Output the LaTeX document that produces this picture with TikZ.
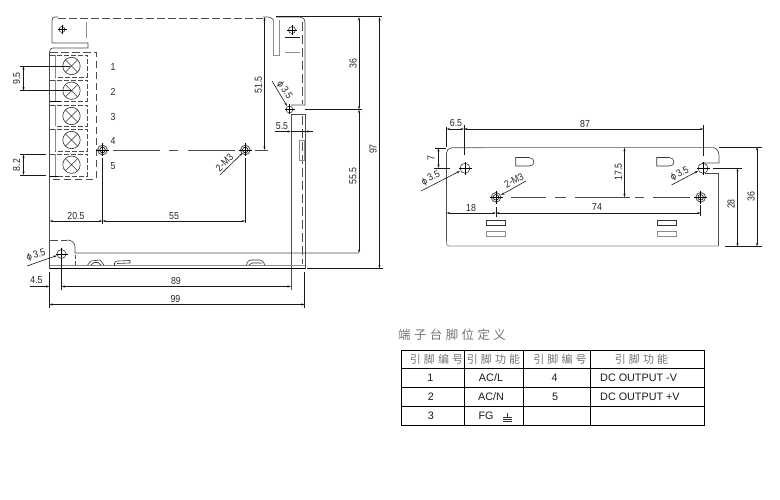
\documentclass[tikz,border=0pt]{standalone}
\usepackage{fontspec}
\setmainfont{Liberation Sans}
\newfontfamily\dimf[FakeStretch=0.86]{Liberation Sans}
\newfontfamily\cjkf[LetterSpace=28]{Noto Sans CJK SC}
\newfontfamily\symf{DejaVu Sans}
\usetikzlibrary{arrows.meta}
\tikzset{
  body/.style={line width=0.7pt,draw=black!70},
  bodylight/.style={line width=0.8pt,draw=black!45},
  dashline/.style={line width=0.7pt,draw=black!70,dash pattern=on 7.5pt off 3.5pt},
  dimline/.style={line width=0.6pt,draw=black!90},
  dimarrow/.style={dimline,<->,>={Stealth[length=3.5pt,width=2.2pt]}},
  onearrow/.style={dimline,->,>={Stealth[length=3.5pt,width=2.2pt]}},
  lab/.style={font=\dimf\fontsize{10.2}{12}\selectfont,text=black!85,inner sep=0pt},
  cjktext/.style={inner sep=0pt,text=black!55},
  cell/.style={font=\fontsize{10.8}{13}\selectfont,inner sep=0pt,text=black!90},
  screw/.style={line width=0.6pt,draw=black!80}
}
\newcommand{\phisym}{{\symf\fontsize{8.5}{10}\selectfont ϕ}}
\newcommand{\plainhole}[3]{%
  \draw[screw] (#1,#2) circle (#3pt);
  \draw[line width=0.5pt,draw=black] (#1-#3-1.5,#2) -- (#1+#3+1.5,#2) (#1,#2-#3-1.5) -- (#1,#2+#3+1.5);
}
\newcommand{\threadhole}[2]{%
  \draw[line width=0.9pt,draw=black!65] (#1,#2) circle (4.8pt);
  \draw[line width=0.6pt,draw=black] (#1,#2) circle (2.8pt);
  \draw[line width=0.5pt,draw=black] (#1-6.5,#2) -- (#1+6.5,#2) (#1,#2-6.5) -- (#1,#2+6.5);
}
\newcommand{\tscrew}[2]{%
  \draw[screw] (71.5,#1) circle (8.7pt);
  \draw[screw] (71.5-6.15,#1-6.15) -- (71.5+6.15,#1+6.15) (71.5-6.15,#1+6.15) -- (71.5+6.15,#1-6.15);
  \node[lab] (term#2) at (113,#1+1) {#2};
}
\begin{document}
\begin{tikzpicture}[x=1pt,y=-1pt]
\useasboundingbox (0,0) rectangle (780,500);
% ---------- left view: chassis
\draw[body] (52,43) -- (52,21) .. controls (52,18) and (53,17) .. (55,17) -- (58,17);
\draw[dashline] (58,18.5) -- (263,18.5);
\draw[body] (263,17) -- (268,17) .. controls (270,17) and (272,18) .. (273.5,20);
\draw[body] (52,43) -- (88,43) -- (88,48) -- (53,48) .. controls (51,48) and (49.5,49) .. (49.5,52);
\draw[bodylight] (86,22) -- (86,38);
\draw[body] (49.5,52) -- (49.5,268.5);
\draw[dashline] (50,52) -- (96,52) -- (96,179) -- (49.5,179);
% terminal cells
\foreach \t/\b in {55/77.5,80/101.5,105/126.5,129.5/151.5,154/176}{
  \draw[dashline,dash pattern=on 5pt off 2pt] (49.5,\t) -- (87,\t) -- (87,\b) -- (55,\b);
  \draw[bodylight,line width=0.6pt] (55,\t) -- (55,\b);
}
\draw[body,draw=black] (49.5,101.5) -- (60,101.5) (49.5,176) -- (58,176);
\tscrew{66}{1}\tscrew{90.7}{2}\tscrew{116}{3}\tscrew{140}{4}\tscrew{164.7}{5}
% right bracket
\draw[bodylight] (273.5,20) -- (273.5,55) -- (279,55) -- (279,20);
\draw[body] (276,17) -- (300,17) .. controls (303,17) and (305,19) .. (305,23) -- (305,105) -- (291,105);
\draw[body] (291,114) -- (305,114) -- (305,268.5);
\draw[body] (291,114) -- (291,290);
\draw[dashline,dash pattern=on 9pt off 4pt] (302,22) -- (302,104);
\draw[dashline,dash pattern=on 9pt off 4pt] (302,116) -- (302,264);
\draw[bodylight,line width=0.6pt] (299.5,140) rectangle (304,160.7);
\draw[dimline] (285,37.5) -- (300,37.5);
\draw[bodylight] (285,52.5) -- (300,52.5);
% bottom plate
\draw[dashline,dash pattern=on 8pt off 3pt] (49.5,240) -- (67,240);
\draw[body] (67,240) .. controls (72,240) and (75,243) .. (75,247) -- (75,253) -- (359,253);
\draw[dashline,dash pattern=on 4pt off 2pt] (75,255) -- (75,265);
\draw[bodylight] (49.5,265.5) -- (305,265.5);
\draw[body,draw=black] (49.5,268.5) -- (305,268.5);
\draw[screw] (87.5,265) -- (91,261) -- (100,260) -- (104,265);
\draw[screw] (91,265) -- (94,262.5) -- (98,262.5) -- (101,265);
\draw[screw] (114.5,265.5) -- (114.5,263) .. controls (115,261.5) and (116,261) .. (118,261) -- (130,260.5) -- (130,263) -- (117,263.5);
\draw[screw] (246.5,265) .. controls (247.5,261) and (249,260) .. (251,260) -- (260,260) .. controls (262,260) and (264,262) .. (265,265);
\draw[screw] (249,265) -- (252,263) -- (262,263);
% holes
\plainhole{62}{29.5}{3}
\plainhole{292}{30}{3.5}
\plainhole{61.5}{254}{4.5}
\plainhole{289.5}{109.5}{3.5}
\threadhole{102.5}{150}
\threadhole{245.3}{150}
% centre line
\draw[body] (113,150) -- (160,150);
\draw[body] (169,150) -- (178,150);
\draw[body] (188,150) -- (235,150);
\draw[body] (255,150) -- (268,150);
% left view dims
\draw[dimline] (20,66) -- (70,66) (20,90.7) -- (71,90.7) (20,154.5) -- (46,154.5) (20,175) -- (46,175);
\draw[dimarrow] (23.5,66) -- (23.5,90.7);
\draw[dimarrow] (23.5,154.5) -- (23.5,175);
\node[lab,rotate=90] (d95) at (16.5,78.5) {9.5};
\node[lab,rotate=90] (d82) at (16.5,165) {8.2};
\draw[dimline] (102.5,158) -- (102.5,224) (245.3,158) -- (245.3,223);
\draw[dimarrow] (49.5,221) -- (102.5,221);
\draw[dimarrow] (102.5,221) -- (245.3,221);
\node[lab] (d205) at (76,215.5) {20.5};
\node[lab] (d55) at (174,216) {55};
\draw[dimarrow] (264.5,17) -- (264.5,150);
\node[lab,rotate=90] (d515) at (258.5,85) {51.5};
\draw[dimline] (276,16.5) -- (382,16.5);
\draw[dimline] (305,109.5) -- (362,109.5);
\draw[dimline] (307,268.5) -- (383,268.5);
\draw[dimarrow] (359,17) -- (359,109.5);
\draw[dimarrow] (359,109.5) -- (359,253);
\draw[dimarrow] (379.5,17) -- (379.5,268.5);
\node[lab,rotate=90] (d36a) at (353,63.5) {36};
\node[lab,rotate=90] (d555) at (353,176) {55.5};
\node[lab,rotate=90] (d97) at (373,149) {97};
\draw[onearrow] (275,131.5) -- (291,131.5);
\draw[onearrow] (313,131.5) -- (305,131.5);
\draw[dimline] (291,131.5) -- (305,131.5);
\node[lab] (d55b) at (282,126) {5.5};
\draw[onearrow] (272,81) -- (287,106);
\node[lab,rotate=-57] (dphi1) at (284.5,90) {\phisym\,3.5};
\draw[onearrow] (220,175) -- (242.5,153);
\node[lab,rotate=45] (dm31) at (224.5,162.5) {2-M3};
\draw[onearrow] (27,266) -- (57,255.5);
\node[lab,rotate=17] (dphi2) at (36,255.5) {\phisym\,3.5};
\draw[dimline] (49.5,272) -- (49.5,308) (61.5,258) -- (61.5,290) (304.7,272) -- (304.7,308);
\draw[onearrow] (30,286.5) -- (49.5,286.5);
\draw[dimarrow] (61.5,286.5) -- (291,286.5);
\draw[dimarrow] (49.5,304.5) -- (304.7,304.5);
\node[lab] (d45) at (36.5,280.5) {4.5};
\node[lab] (d89) at (176,280.5) {89};
\node[lab] (d99) at (175.5,298.5) {99};
% ---------- right view
\draw[body] (446.5,241) -- (446.5,153) .. controls (446.5,150) and (449,147.7) .. (452,147.7) -- (483,147.7);
\draw[bodylight,line width=1.2pt] (483,147.7) -- (713,147.7);
\draw[body] (713,147.7) .. controls (716,147.7) and (719,151) .. (719,155) -- (719,163) -- (702,163);
\draw[body] (705,173.5) -- (718.5,173.5) -- (718.5,246);
\draw[bodylight] (718.5,246) -- (449,246) .. controls (447,246) and (446.5,245) .. (446.5,241);
\draw[screw] (515.7,157.5) -- (529,157.5) .. controls (532,157.5) and (534,159.5) .. (534,162) .. controls (534,164.5) and (532,166) .. (529,166) -- (515.7,166) -- cycle;
\draw[screw] (656.7,157.5) -- (669,157.5) .. controls (672,157.5) and (674,159.5) .. (674,162) .. controls (674,164.5) and (672,166) .. (669,166) -- (656.7,166) -- cycle;
\foreach \x in {486.7,657.7}{
  \draw[screw] (\x,220) rectangle (\x+18.3,225.7);
  \draw[bodylight,line width=0.6pt] (\x,231) rectangle (\x+18.3,236.7);
}
\plainhole{465}{168.3}{5}
\plainhole{703}{168.3}{5}
\threadhole{496}{197.3}
\threadhole{700.7}{197.3}
\draw[body] (511,197.3) -- (546,197.3);
\draw[body] (555,197.3) -- (566,197.3);
\draw[body] (575,197.3) -- (630,197.3);
\draw[body] (635,197.3) -- (644,197.3);
\draw[body] (653,197.3) -- (690,197.3);
% right view dims
\draw[dimline] (446.5,127) -- (446.5,147) (464,125) -- (464,155) (703.5,125) -- (703.5,156);
\draw[dimarrow] (446.5,129) -- (464,129);
\draw[dimarrow] (464,129) -- (703.5,129);
\node[lab] (d65) at (456,123) {6.5};
\node[lab] (d87) at (585,124) {87};
\draw[dimline] (435,148) -- (446,148) (434,168) -- (450,168);
\draw[dimarrow] (438.5,148) -- (438.5,168);
\node[lab,rotate=90] (d7) at (431,158) {7};
\draw[onearrow] (421,191) -- (460,171);
\node[lab,rotate=27] (dphi3) at (430.7,178.5) {\phisym\,3.5};
\draw[onearrow] (526,181) -- (501,195);
\node[lab,rotate=27] (dm32) at (514,180.5) {2-M3};
\draw[dimline] (496,207) -- (496,217) (700.7,205) -- (700.7,216);
\draw[dimarrow] (446.5,213) -- (496,213);
\draw[dimarrow] (496,213) -- (700.7,213);
\node[lab] (d18) at (471,208) {18};
\node[lab] (d74) at (597,207) {74};
\draw[dimarrow] (624.5,147.7) -- (624.5,197.3);
\node[lab,rotate=90] (d175) at (618.5,172) {17.5};
\draw[onearrow] (671.5,185) -- (698,171);
\node[lab,rotate=27] (dphi4) at (679.5,174) {\phisym\,3.5};
\draw[dimline] (719,147) -- (762,147) (725,246.5) -- (762,246.5) (713,168) -- (742,168);
\draw[dimarrow] (757,147) -- (757,246.5);
\draw[dimarrow] (737.5,168) -- (737.5,246.5);
\node[lab,rotate=90] (d36b) at (751,196.5) {36};
\node[lab,rotate=90] (d28) at (731,204) {28};
% ---------- table
\node[cjktext,anchor=west,font={\cjkf\fontsize{12.4}{14}\selectfont}] (ttl) at (398,334.5) {端子台脚位定义};
\draw[line width=0.7pt] (401.7,350) rectangle (704.3,425.3);
\foreach \y in {368.5,387.5,406}{\draw[line width=0.7pt] (401.7,\y) -- (704.3,\y);}
\foreach \x in {464.3,523.3,590.3}{\draw[line width=0.7pt] (\x,350) -- (\x,425.3);}
\node[cjktext,font={\cjkf\fontsize{11}{13}\selectfont}] (h1) at (436.5,359.5) {引脚编号};
\node[cjktext,font={\cjkf\fontsize{11}{13}\selectfont}] (h2) at (493.5,359.5) {引脚功能};
\node[cjktext,font={\cjkf\fontsize{11}{13}\selectfont}] (h3) at (560,359.5) {引脚编号};
\node[cjktext,font={\cjkf\fontsize{11}{13}\selectfont}] (h4) at (641.5,359.5) {引脚功能};
\node[cell] (c11) at (430.5,377.5) {1};
\node[cell] (c21) at (431,396.7) {2};
\node[cell] (c31) at (431,416) {3};
\node[cell] (c12) at (491,377.5) {AC/L};
\node[cell] (c22) at (491,396.7) {AC/N};
\node[cell] (c32) at (486,416) {FG};
\draw[line width=0.6pt,draw=black!80] (507.3,413) -- (507.3,417) (503,417) -- (511.7,417) (503,419.3) -- (511.7,419.3) (503,421.5) -- (511.7,421.5);
\node[cell] (c13) at (554.5,377.5) {4};
\node[cell] (c23) at (555,396.7) {5};
\node[cell,anchor=west] (c14) at (600,377.5) {DC OUTPUT -V};
\node[cell,anchor=west] (c24) at (600,396.7) {DC OUTPUT +V};
\end{tikzpicture}
\end{document}
